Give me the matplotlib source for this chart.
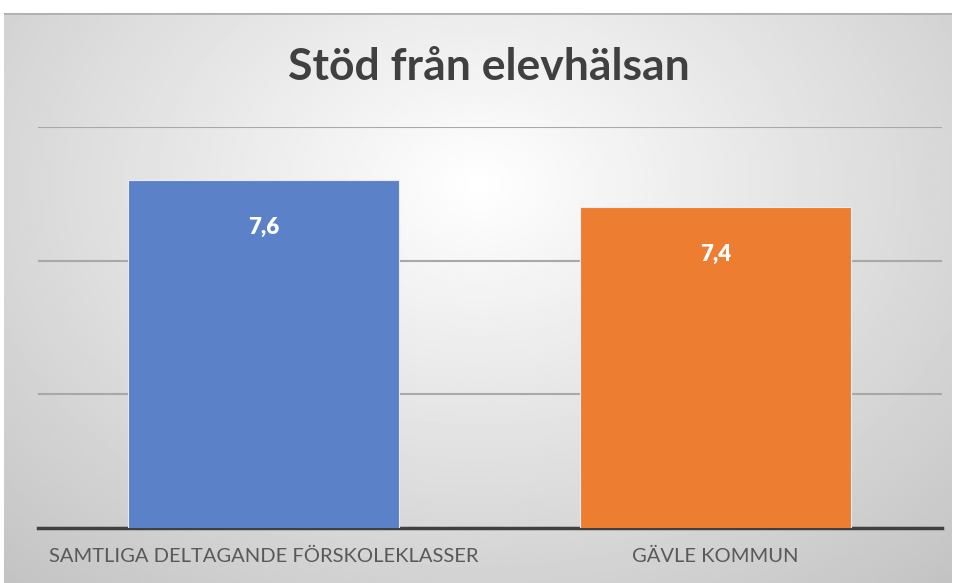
import matplotlib
matplotlib.use('Agg')
import matplotlib.pyplot as plt
import numpy as np

# data
categories = ['SAMTLIGA DELTAGANDE FÖRSKOLEKLASSER', 'GÄVLE KOMMUN']
values = [7.6, 7.4]
value_labels = ['7,6', '7,4']
colors = ['#5B82C9', '#ED7D31']

plt.rcParams['font.family'] = ['Lato', 'DejaVu Sans']

fig = plt.figure(figsize=(9.56, 5.83), dpi=100)
fig.patch.set_facecolor('white')

# radial gradient background for the chart area
bg = fig.add_axes([4 / 956, 0, 948 / 956, 570 / 583])
yy, xx = np.mgrid[0:1:300j, 0:1:500j]
r = np.sqrt(((xx - 0.5) / 0.8) ** 2 + ((yy - 0.3) / 1.0) ** 2)
shade = np.clip(1.0 - 0.25 * r, 0, 1)
bg.imshow(shade, cmap='gray', vmin=0, vmax=1, aspect='auto', extent=[0, 1, 1, 0])
bg.axhline(0, color='#b0b0b0', lw=2)
bg.set_axis_off()

ax = fig.add_axes([37.5 / 956, (583 - 528) / 583, 904 / 956, (528 - 127) / 583])
ax.patch.set_alpha(0)
x = np.arange(len(categories))
bars = ax.bar(x, values, width=0.6, color=colors, edgecolor='#e8eef8', linewidth=0.8,
              zorder=3)
ax.set_ylim(5, 8)
ax.set_xlim(-0.5, 1.5)
ax.set_yticks([6, 7, 8])
ax.yaxis.grid(True, color='#a8a8a8', lw=1.5, zorder=1)
ax.tick_params(axis='y', left=False, labelleft=False)
ax.tick_params(axis='x', length=0, pad=14)
ax.set_xticks(x)
ax.set_xticklabels(categories, fontsize=14.5, color='#595959')
for s in ['top', 'right', 'left']:
    ax.spines[s].set_visible(False)
ax.spines['bottom'].set_color('#404040')
ax.spines['bottom'].set_linewidth(2.5)

for xi, v, lab in zip(x, values, value_labels):
    ax.annotate(lab, (xi, v), xytext=(0, -34), textcoords='offset points',
                ha='center', va='center', color='white', fontsize=16, fontweight='heavy')

fig.text(489 / 956, 1 - 67 / 583, 'Stöd från elevhälsan', ha='center', va='center',
         fontsize=32, fontweight='bold', color='#404040')

fig.savefig('out.png', dpi=100)
